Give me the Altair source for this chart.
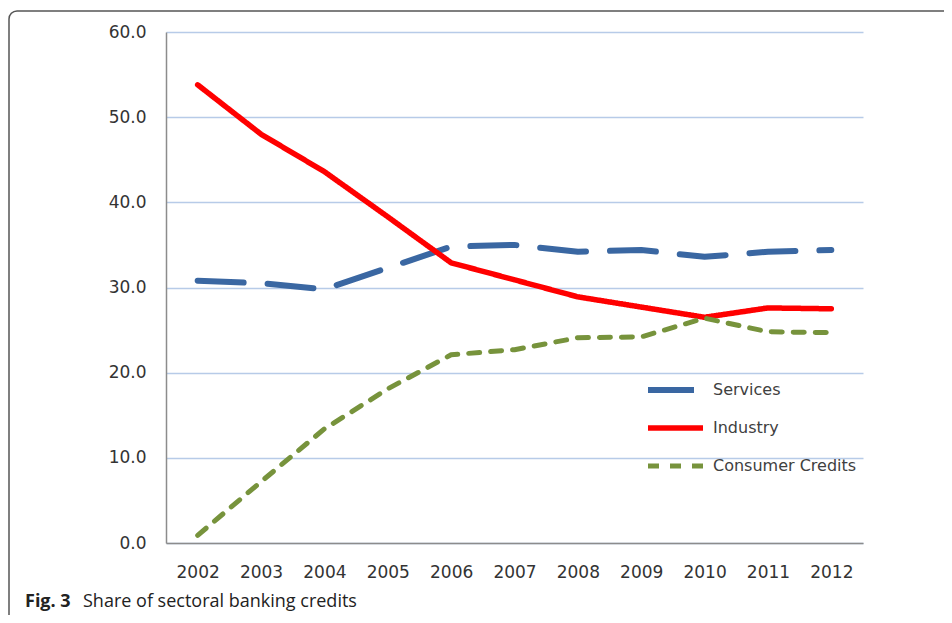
import altair as alt
import pandas as pd

years = ["2002", "2003", "2004", "2005", "2006", "2007", "2008", "2009", "2010", "2011", "2012"]
services = [30.8, 30.5, 29.8, 32.3, 34.8, 35.0, 34.2, 34.4, 33.6, 34.2, 34.4]
industry = [53.8, 48.0, 43.6, 38.3, 32.9, 30.9, 28.9, 27.7, 26.5, 27.6, 27.5]
consumer = [0.9, 7.2, 13.4, 18.1, 22.1, 22.7, 24.1, 24.2, 26.4, 24.8, 24.7]
series_names = ["Services", "Industry", "Consumer Credits"]
series_colors = ["#3a67a2", "#ff0000", "#77933c"]
series_dashes = [[46, 24], [1, 0], [11, 11]]
series_widths = [6, 5, 4]
y_ticks = [0, 10, 20, 30, 40, 50, 60]

rows = []
for name, vals in zip(series_names, [services, industry, consumer]):
    for yr, v in zip(years, vals):
        rows.append({"Year": yr, "Value": v, "Series": name})
df = pd.DataFrame(rows)

FONT = "DejaVu Sans"
W, H = 697, 511

leg = dict(
    title=None, orient="none", legendX=479, legendY=346, symbolType="stroke",
    symbolSize=3025, symbolStrokeWidth=5, clipHeight=24, rowPadding=14,
    labelFontSize=16, labelFont=FONT, labelColor="#404040", labelOffset=7, padding=0,
)

lines = alt.Chart(df).mark_line(strokeCap="round", strokeJoin="round").encode(
    x=alt.X("Year:O", sort=years, scale=alt.Scale(type="point", padding=0.5),
            axis=alt.Axis(title=None, labelAngle=0, ticks=False, grid=False, labelPadding=21)),
    y=alt.Y("Value:Q", scale=alt.Scale(domain=[0, 60], nice=False),
            axis=alt.Axis(title=None, values=y_ticks, format=".1f", ticks=False, labelPadding=20)),
    color=alt.Color("Series:N", sort=series_names,
                    scale=alt.Scale(domain=series_names, range=series_colors), legend=alt.Legend(**leg)),
    strokeDash=alt.StrokeDash("Series:N", sort=series_names,
                              scale=alt.Scale(domain=series_names, range=series_dashes), legend=alt.Legend(**leg)),
    strokeWidth=alt.StrokeWidth("Series:N", sort=series_names,
                                scale=alt.Scale(domain=series_names, range=series_widths), legend=None),
)

deco = alt.Data(values=[{"a": 1}])
border = alt.Chart(deco).mark_rect(
    fill=None, stroke="#555555", strokeWidth=1.5, cornerRadiusTopLeft=8
).encode(x=alt.value(-157), x2=alt.value(900), y=alt.value(-21), y2=alt.value(700))

cap_bold = alt.Chart(deco).mark_text(
    text="Fig. 3", font="Open Sans", fontSize=18, fontWeight="bold", align="left", baseline="alphabetic", color="#222222"
).encode(x=alt.value(-141), y=alt.value(575))
cap_text = alt.Chart(deco).mark_text(
    text="Share of sectoral banking credits", font="Open Sans", fontSize=18, align="left", baseline="alphabetic", color="#222222"
).encode(x=alt.value(-83), y=alt.value(575))

chart = alt.layer(border, lines, cap_bold, cap_text).properties(
    width=W, height=H,
    autosize=alt.AutoSizeParams(type="none"),
    padding={"left": 158, "top": 24, "right": 81, "bottom": 72},
).configure_view(stroke=None).configure_axis(
    labelFont=FONT, labelFontSize=17, labelColor="#333333",
    domainColor="#8c8c8c", domainWidth=1.5,
    gridColor="#b7cbe8", gridWidth=1.5,
)

chart.save("out.html", embed_options={"renderer": "svg", "actions": False})
